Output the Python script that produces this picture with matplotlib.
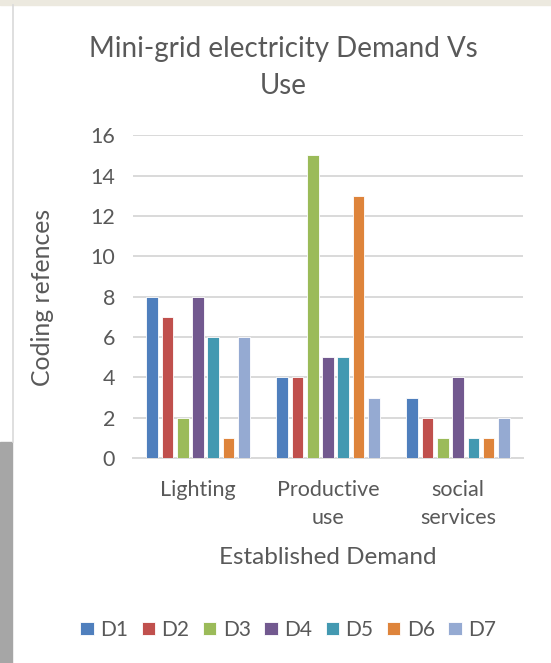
import numpy as np
import matplotlib
matplotlib.use('Agg')
import matplotlib.pyplot as plt
from matplotlib.patches import Rectangle
from matplotlib.lines import Line2D

categories = ['Lighting', 'Productive\nuse', 'social\nservices']
series = ['D1', 'D2', 'D3', 'D4', 'D5', 'D6', 'D7']
d1 = [8, 4, 3]
d2 = [7, 4, 2]
d3 = [2, 15, 1]
d4 = [8, 5, 4]
d5 = [6, 5, 1]
d6 = [1, 13, 1]
d7 = [6, 3, 2]
values = [d1, d2, d3, d4, d5, d6, d7]
colors = ['#4F7FBD', '#C0504D', '#9BBB59', '#72598F', '#4399B1', '#DE843B', '#95AAD2']

plt.rcParams['font.family'] = ['Lato', 'DejaVu Sans']
txt = '#595959'

fig = plt.figure(figsize=(5.51, 6.63), dpi=100)
ax = fig.add_axes([0.2414, 0.309, 0.708, 0.487])

x = np.arange(len(categories))
pitch = 0.1173
width = 0.09
for i, (name, vals) in enumerate(zip(series, values)):
    ax.bar(x + (i - 3) * pitch, vals, width, color=colors[i], label=name,
           edgecolor='white', linewidth=0.6, zorder=3)

ax.set_xlim(-0.5, 2.5)
ax.set_ylim(0, 16)
ax.set_yticks(range(0, 17, 2))
ax.yaxis.grid(True, color='#d9d9d9', linewidth=1.4, zorder=0)
ax.set_axisbelow(True)
for s in ['top', 'right', 'left']:
    ax.spines[s].set_visible(False)
ax.spines['bottom'].set_color('#d9d9d9')
ax.spines['bottom'].set_linewidth(1.4)
ax.tick_params(axis='both', length=0, colors=txt, labelsize=15.5)
ax.tick_params(axis='y', pad=13)
ax.tick_params(axis='x', pad=16)
ax.set_xticks(x)
ax.set_xticklabels(categories, linespacing=1.45)

ax.set_xlabel('Established Demand', fontsize=17.5, color=txt)
ax.set_ylabel('Coding refences', fontsize=17.8, color=txt)
ax.xaxis.set_label_coords(0.5, -0.307)
ax.yaxis.set_label_coords(-0.232, 0.498)
ax.xaxis.label.set_va('center')
ax.yaxis.label.set_va('center')

fig.text(0.514, 0.898, 'Mini-grid electricity Demand Vs\nUse', ha='center', va='center',
         fontsize=20, color=txt, linespacing=1.55)

leg = fig.legend(loc='center', bbox_to_anchor=(0.523, 0.05), ncol=7, frameon=False,
                 fontsize=15, handlelength=0.65, handleheight=0.65, handletextpad=0.3,
                 columnspacing=0.65, labelcolor=txt)

# page frame bits
fig.patches.append(Rectangle((0, 1 - 5 / 663), 1, 5 / 663, transform=fig.transFigure,
                             color='#ece9df', zorder=0))
fig.patches.append(Rectangle((0, 0), 12 / 551, 221 / 663, transform=fig.transFigure,
                             color='#a6a6a6', zorder=0))
fig.lines.append(Line2D([12.5 / 551, 12.5 / 551], [221 / 663, 1 - 5 / 663],
                        transform=fig.transFigure, color='#d9d9d9', linewidth=1.2))

fig.savefig('out.png', dpi=100)
